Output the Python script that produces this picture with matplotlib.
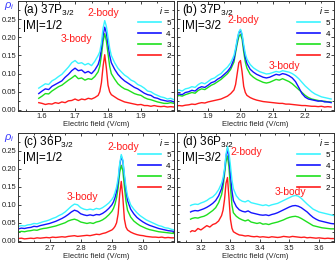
import numpy as np
import matplotlib
matplotlib.use("Agg")
import matplotlib.pyplot as plt
from matplotlib.ticker import MultipleLocator, FormatStrFormatter

plt.rcParams['font.family'] = ['Liberation Sans', 'DejaVu Sans']
plt.rcParams['mathtext.fontset'] = 'custom'
plt.rcParams['mathtext.rm'] = 'Liberation Sans'
plt.rcParams['mathtext.it'] = 'Liberation Sans:italic'

# --- dados ---
# (a) 37P3/2 |M|=1/2
xa = [1.59, 1.60, 1.61, 1.62, 1.63, 1.64, 1.65, 1.66, 1.67, 1.68, 1.69, 1.70, 1.71, 1.72, 1.73,
      1.74, 1.75, 1.76, 1.77, 1.775, 1.78, 1.785, 1.79, 1.795, 1.80, 1.805, 1.81, 1.82, 1.83,
      1.84, 1.85, 1.86, 1.87, 1.88, 1.89, 1.90, 1.91, 1.92, 1.93, 1.94, 1.95, 1.96, 1.97, 1.98,
      1.99, 2.00]
a5 = [0.060, 0.066, 0.072, 0.070, 0.080, 0.085, 0.092, 0.098, 0.108, 0.118, 0.130, 0.136, 0.128,
      0.130, 0.124, 0.128, 0.122, 0.134, 0.150, 0.160, 0.185, 0.225, 0.246, 0.230, 0.200, 0.170,
      0.150, 0.130, 0.115, 0.105, 0.096, 0.090, 0.082, 0.078, 0.070, 0.066, 0.060, 0.052, 0.050,
      0.044, 0.040, 0.036, 0.034, 0.030, 0.032, 0.028]
a4 = [0.045, 0.052, 0.058, 0.056, 0.065, 0.070, 0.075, 0.080, 0.090, 0.098, 0.108, 0.115, 0.108,
      0.110, 0.102, 0.106, 0.100, 0.110, 0.125, 0.140, 0.170, 0.205, 0.228, 0.212, 0.180, 0.150,
      0.130, 0.112, 0.098, 0.088, 0.080, 0.074, 0.068, 0.062, 0.058, 0.052, 0.046, 0.042, 0.040,
      0.034, 0.032, 0.028, 0.026, 0.024, 0.025, 0.022]
a3 = [0.032, 0.038, 0.045, 0.044, 0.052, 0.058, 0.064, 0.068, 0.075, 0.082, 0.088, 0.095, 0.086,
      0.088, 0.082, 0.086, 0.084, 0.092, 0.105, 0.120, 0.150, 0.188, 0.210, 0.190, 0.155, 0.120,
      0.100, 0.085, 0.072, 0.064, 0.058, 0.055, 0.050, 0.045, 0.042, 0.040, 0.034, 0.030, 0.028,
      0.025, 0.022, 0.020, 0.018, 0.018, 0.020, 0.018]
a2 = [0.020, 0.018, 0.015, 0.017, 0.016, 0.020, 0.018, 0.022, 0.020, 0.025, 0.026, 0.030, 0.026,
      0.030, 0.028, 0.032, 0.030, 0.034, 0.040, 0.050, 0.075, 0.120, 0.152, 0.115, 0.068, 0.050,
      0.042, 0.036, 0.030, 0.026, 0.022, 0.020, 0.018, 0.016, 0.014, 0.015, 0.012, 0.012, 0.010,
      0.012, 0.010, 0.009, 0.010, 0.008, 0.009, 0.008]

# (b) 37P3/2 |M|=3/2
xb = [1.80, 1.81, 1.82, 1.83, 1.84, 1.85, 1.86, 1.87, 1.88, 1.89, 1.90, 1.91, 1.92, 1.93, 1.94,
      1.95, 1.96, 1.97, 1.98, 1.985, 1.99, 1.995, 2.00, 2.005, 2.01, 2.015, 2.02, 2.03, 2.04,
      2.05, 2.06, 2.07, 2.08, 2.09, 2.10, 2.11, 2.12, 2.13, 2.14, 2.15, 2.16, 2.17, 2.18, 2.19,
      2.20, 2.21, 2.22, 2.23, 2.24, 2.25, 2.26, 2.27, 2.28]
b5 = [0.050, 0.055, 0.052, 0.058, 0.060, 0.064, 0.062, 0.070, 0.075, 0.072, 0.078, 0.085, 0.088,
      0.095, 0.100, 0.110, 0.118, 0.130, 0.150, 0.170, 0.195, 0.215, 0.222, 0.210, 0.180, 0.155,
      0.140, 0.125, 0.116, 0.110, 0.105, 0.102, 0.099, 0.100, 0.103, 0.106, 0.104, 0.108, 0.106,
      0.104, 0.100, 0.094, 0.086, 0.076, 0.066, 0.058, 0.050, 0.044, 0.040, 0.036, 0.034, 0.032,
      0.030]
b4 = [0.040, 0.044, 0.042, 0.048, 0.050, 0.054, 0.052, 0.060, 0.064, 0.062, 0.068, 0.075, 0.078,
      0.085, 0.090, 0.098, 0.106, 0.118, 0.140, 0.165, 0.190, 0.212, 0.220, 0.205, 0.172, 0.145,
      0.128, 0.112, 0.104, 0.098, 0.094, 0.090, 0.088, 0.090, 0.094, 0.098, 0.096, 0.100, 0.098,
      0.094, 0.088, 0.078, 0.062, 0.045, 0.035, 0.030, 0.028, 0.026, 0.024, 0.025, 0.022, 0.022,
      0.020]
b3 = [0.035, 0.040, 0.038, 0.042, 0.045, 0.048, 0.046, 0.054, 0.058, 0.056, 0.062, 0.068, 0.072,
      0.078, 0.084, 0.092, 0.100, 0.112, 0.132, 0.158, 0.182, 0.202, 0.208, 0.195, 0.160, 0.132,
      0.115, 0.098, 0.090, 0.084, 0.080, 0.076, 0.074, 0.076, 0.080, 0.084, 0.082, 0.086, 0.082,
      0.078, 0.072, 0.064, 0.056, 0.048, 0.040, 0.034, 0.030, 0.028, 0.026, 0.024, 0.024, 0.022,
      0.022]
b2 = [0.010, 0.012, 0.011, 0.013, 0.014, 0.016, 0.015, 0.018, 0.020, 0.019, 0.022, 0.024, 0.026,
      0.028, 0.030, 0.034, 0.038, 0.045, 0.055, 0.070, 0.100, 0.130, 0.136, 0.105, 0.065, 0.048,
      0.040, 0.034, 0.030, 0.027, 0.025, 0.023, 0.022, 0.021, 0.020, 0.019, 0.018, 0.018, 0.016,
      0.016, 0.015, 0.014, 0.013, 0.012, 0.012, 0.011, 0.010, 0.010, 0.009, 0.010, 0.008, 0.009,
      0.008]

# (c) 36P3/2 |M|=1/2
xc = [2.60, 2.61, 2.62, 2.63, 2.64, 2.65, 2.66, 2.67, 2.68, 2.69, 2.70, 2.71, 2.72, 2.73, 2.74,
      2.75, 2.76, 2.77, 2.78, 2.79, 2.80, 2.81, 2.82, 2.83, 2.84, 2.85, 2.86, 2.87, 2.88, 2.89,
      2.90, 2.905, 2.91, 2.915, 2.92, 2.925, 2.93, 2.935, 2.94, 2.945, 2.95, 2.96, 2.97, 2.98,
      2.99, 3.00, 3.01, 3.02, 3.03, 3.04, 3.05, 3.06, 3.07, 3.08, 3.09, 3.10]
c5 = [0.040, 0.042, 0.041, 0.044, 0.045, 0.048, 0.047, 0.050, 0.053, 0.055, 0.058, 0.062, 0.065,
      0.070, 0.074, 0.080, 0.088, 0.096, 0.102, 0.100, 0.092, 0.088, 0.086, 0.088, 0.086, 0.090,
      0.088, 0.092, 0.098, 0.105, 0.115, 0.122, 0.135, 0.150, 0.175, 0.215, 0.240, 0.225, 0.185,
      0.150, 0.125, 0.100, 0.088, 0.078, 0.070, 0.064, 0.058, 0.054, 0.050, 0.046, 0.042, 0.040,
      0.036, 0.035, 0.032, 0.030]
c4 = [0.033, 0.035, 0.034, 0.036, 0.037, 0.040, 0.039, 0.042, 0.044, 0.046, 0.048, 0.051, 0.054,
      0.058, 0.062, 0.067, 0.073, 0.080, 0.085, 0.082, 0.075, 0.072, 0.070, 0.072, 0.070, 0.073,
      0.072, 0.076, 0.082, 0.090, 0.100, 0.108, 0.120, 0.138, 0.165, 0.210, 0.235, 0.222, 0.178,
      0.140, 0.112, 0.088, 0.075, 0.065, 0.058, 0.052, 0.047, 0.043, 0.040, 0.037, 0.034, 0.032,
      0.030, 0.028, 0.027, 0.026]
c3 = [0.024, 0.026, 0.025, 0.027, 0.028, 0.030, 0.029, 0.032, 0.034, 0.035, 0.037, 0.039, 0.041,
      0.044, 0.047, 0.050, 0.055, 0.058, 0.060, 0.057, 0.052, 0.050, 0.048, 0.050, 0.048, 0.052,
      0.054, 0.058, 0.064, 0.072, 0.082, 0.090, 0.102, 0.120, 0.148, 0.190, 0.210, 0.195, 0.150,
      0.110, 0.085, 0.066, 0.055, 0.048, 0.042, 0.038, 0.034, 0.031, 0.029, 0.027, 0.025, 0.024,
      0.023, 0.022, 0.021, 0.020]
c2 = [0.006, 0.007, 0.005, 0.006, 0.007, 0.006, 0.008, 0.007, 0.008, 0.009, 0.008, 0.010, 0.009,
      0.010, 0.011, 0.010, 0.012, 0.013, 0.014, 0.012, 0.013, 0.014, 0.015, 0.014, 0.016, 0.018,
      0.017, 0.020, 0.022, 0.026, 0.030, 0.034, 0.040, 0.050, 0.075, 0.130, 0.165, 0.120, 0.060,
      0.038, 0.030, 0.024, 0.020, 0.017, 0.015, 0.014, 0.012, 0.011, 0.010, 0.010, 0.009, 0.010,
      0.008, 0.009, 0.008, 0.008]

# (d) 36P3/2 |M|=3/2
xd = [3.165, 3.17, 3.18, 3.19, 3.20, 3.21, 3.22, 3.23, 3.24, 3.25, 3.26, 3.27, 3.275, 3.28,
      3.285, 3.29, 3.295, 3.30, 3.305, 3.31, 3.32, 3.33, 3.34, 3.35, 3.36, 3.37, 3.38, 3.39,
      3.40, 3.41, 3.42, 3.43, 3.44, 3.45, 3.46, 3.47, 3.48, 3.49, 3.50, 3.51, 3.52, 3.53, 3.54,
      3.55, 3.56, 3.57, 3.58, 3.59, 3.60, 3.61, 3.62, 3.63, 3.64, 3.65]
d5 = [0.098, 0.100, 0.102, 0.101, 0.105, 0.108, 0.112, 0.118, 0.122, 0.130, 0.142, 0.160, 0.175,
      0.200, 0.240, 0.262, 0.245, 0.210, 0.170, 0.145, 0.125, 0.115, 0.110, 0.108, 0.112, 0.106,
      0.104, 0.102, 0.100, 0.098, 0.100, 0.097, 0.100, 0.102, 0.104, 0.108, 0.112, 0.116, 0.120,
      0.124, 0.126, 0.124, 0.118, 0.110, 0.102, 0.095, 0.088, 0.084, 0.080, 0.078, 0.076, 0.074,
      0.072, 0.070]
d4 = [0.080, 0.082, 0.084, 0.083, 0.086, 0.089, 0.093, 0.098, 0.104, 0.112, 0.125, 0.145, 0.165,
      0.195, 0.235, 0.256, 0.230, 0.185, 0.140, 0.112, 0.095, 0.086, 0.082, 0.080, 0.083, 0.078,
      0.076, 0.074, 0.072, 0.071, 0.072, 0.070, 0.073, 0.075, 0.078, 0.082, 0.086, 0.090, 0.094,
      0.097, 0.098, 0.096, 0.092, 0.086, 0.080, 0.072, 0.065, 0.060, 0.056, 0.054, 0.052, 0.050,
      0.048, 0.047]
d3 = [0.060, 0.062, 0.064, 0.063, 0.066, 0.068, 0.072, 0.078, 0.084, 0.092, 0.106, 0.128, 0.150,
      0.185, 0.222, 0.236, 0.205, 0.150, 0.100, 0.078, 0.068, 0.062, 0.058, 0.055, 0.058, 0.052,
      0.050, 0.048, 0.050, 0.046, 0.047, 0.045, 0.048, 0.050, 0.052, 0.055, 0.058, 0.062, 0.065,
      0.067, 0.068, 0.066, 0.062, 0.057, 0.052, 0.047, 0.042, 0.040, 0.038, 0.036, 0.035, 0.034,
      0.033, 0.033]
d2 = [0.025, 0.028, 0.026, 0.034, 0.030, 0.036, 0.042, 0.038, 0.045, 0.048, 0.055, 0.070, 0.085,
      0.115, 0.160, 0.176, 0.120, 0.060, 0.035, 0.025, 0.020, 0.016, 0.015, 0.013, 0.014, 0.012,
      0.011, 0.012, 0.010, 0.011, 0.010, 0.009, 0.011, 0.010, 0.009, 0.010, 0.012, 0.011, 0.010,
      0.012, 0.011, 0.010, 0.009, 0.010, 0.008, 0.009, 0.008, 0.007, 0.008, 0.007, 0.006, 0.007,
      0.006, 0.006]

niveis = ['5', '4', '3', '2']
cores = {'5': '#38f4ff', '4': '#1414ff', '3': '#1ee01e', '2': '#ff1c1c'}
y_ticks = [0.00, 0.05, 0.10, 0.15, 0.20, 0.25]

paineis = [
    dict(x=xa, ys={'5': a5, '4': a4, '3': a3, '2': a2}, rot='(a) 37P', m='|M|=1/2',
         xlim=(1.528, 2.001), ylim=(-0.003, 0.300), xt=[1.6, 1.7, 1.8, 1.9],
         pos=[0.0545, 0.5747, 0.4643, 0.4215], b2=(1.785, 0.268), b3=(1.705, 0.195), rho=True),
    dict(x=xb, ys={'5': b5, '4': b4, '3': b3, '2': b2}, rot='(b) 37P', m='|M|=3/2',
         xlim=(1.805, 2.288), ylim=(-0.003, 0.300), xt=[1.9, 2.0, 2.1, 2.2],
         pos=[0.5277, 0.5747, 0.4655, 0.4215], b2=(2.01, 0.249), b3=(2.135, 0.122), rho=False),
    dict(x=xc, ys={'5': c5, '4': c4, '3': c3, '2': c2}, rot='(c) 36P', m='|M|=1/2',
         xlim=(2.60, 3.10), ylim=(-0.005, 0.300), xt=[2.7, 2.8, 2.9, 3.0],
         pos=[0.0545, 0.0709, 0.4643, 0.4195], b2=(2.935, 0.262), b3=(2.805, 0.122), rho=True),
    dict(x=xd, ys={'5': d5, '4': d4, '3': d3, '2': d2}, rot='(d) 36P', m='|M|=3/2',
         xlim=(3.12, 3.65), ylim=(-0.005, 0.300), xt=[3.2, 3.3, 3.4, 3.5, 3.6],
         pos=[0.5277, 0.0709, 0.4655, 0.4195], b2=(3.355, 0.248), b3=(3.505, 0.136), rho=False),
]

fig = plt.figure(figsize=(3.36, 2.61), dpi=100)

for p in paineis:
    ax = fig.add_axes(p['pos'])
    linhas = {}
    for nivel in ['2', '3', '4', '5']:
        linhas[nivel], = ax.plot(p['x'], p['ys'][nivel], color=cores[nivel], lw=1.0)

    ax.set_xlim(*p['xlim'])
    ax.set_ylim(*p['ylim'])
    ax.set_xticks(p['xt'])
    ax.xaxis.set_minor_locator(MultipleLocator(0.05))
    ax.set_yticks(y_ticks)
    ax.yaxis.set_minor_locator(MultipleLocator(0.025))
    ax.yaxis.set_major_formatter(FormatStrFormatter('%.2f'))
    ax.tick_params(which='both', direction='in', top=True, right=True, width=0.6,
                   labelsize=5.5, pad=1.5, colors='#222222')
    ax.tick_params(which='major', length=2.5)
    ax.tick_params(which='minor', length=1.3)
    if not p['rho']:
        ax.tick_params(labelleft=False)
    for s in ax.spines.values():
        s.set_linewidth(0.7)
        s.set_color('#333333')
    ax.set_xlabel('Electric field (V/cm)', fontsize=5.5, labelpad=0.8, color='#222222')

    ax.text(0.03, 0.89, p['rot'] + r'$_{\mathregular{3/2}}$', transform=ax.transAxes,
            fontsize=8.5, va='baseline', ha='left')
    ax.text(0.03, 0.745, p['m'], transform=ax.transAxes, fontsize=8.5, va='baseline', ha='left')
    ax.text(*p['b2'], '2-body', color='#ff1c1c', fontsize=7.5, ha='center', va='center')
    ax.text(*p['b3'], '3-body', color='#ff1c1c', fontsize=7.5, ha='center', va='center')
    if p['rho']:
        ax.text(-0.058, 0.95, r'$\rho_i$', transform=ax.transAxes, color='#3a3aff',
                fontsize=8, ha='center', va='center')

    leg = ax.legend([linhas[n] for n in niveis], niveis, loc='upper right', frameon=False,
                    fontsize=5.8, title=r'$i$ =', title_fontsize=6.5, handlelength=2.8,
                    handletextpad=0.7, labelspacing=0.42, borderaxespad=0.25, borderpad=0.2,
                    alignment='right')
    for h in leg.get_lines():
        h.set_linewidth(1.2)

fig.savefig('out.png', dpi=100)
